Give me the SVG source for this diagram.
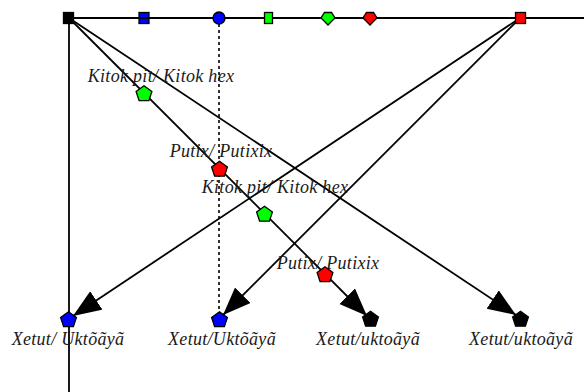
<svg xmlns="http://www.w3.org/2000/svg" width="584" height="392" viewBox="0 0 584 392">
<style>
.ln{stroke:#000;stroke-width:1.8;fill:none}
.dash{stroke:#000;stroke-width:1.6;stroke-dasharray:3,3;fill:none}
.nd{stroke:#000;stroke-width:1.3}
.lbl{font-family:"Liberation Serif","Times New Roman",serif;font-style:italic;font-size:18px;letter-spacing:0.3px;fill:#1a1a1a;text-anchor:middle}
</style>
<defs>
<marker id="ah" markerUnits="userSpaceOnUse" markerWidth="30" markerHeight="24" refX="28" refY="11" orient="auto">
<path d="M0,0 L28,11 L0,22 z" fill="#000"/>
</marker>
<polygon id="pent" points="0,-8.3 7.9,-2.6 4.9,6.7 -4.9,6.7 -7.9,-2.6"/>
<polygon id="shield" points="-3.5,-5.5 3.5,-5.5 7,0 0,7 -7,0"/>
</defs>
<rect width="584" height="392" fill="#fff"/>
<g id="connectors">
<line class="ln" x1="69" y1="18" x2="584" y2="18"/>
<line class="ln" x1="69" y1="18" x2="69" y2="392"/>
<line class="dash" x1="219" y1="18" x2="219" y2="312"/>
<line class="ln" x1="69" y1="18" x2="367" y2="316" marker-end="url(#ah)"/>
<line class="ln" x1="69" y1="18" x2="516" y2="315" marker-end="url(#ah)"/>
<line class="ln" x1="520" y1="18" x2="73" y2="316" marker-end="url(#ah)"/>
<line class="ln" x1="520" y1="18" x2="223" y2="315" marker-end="url(#ah)"/>
</g>
<g id="top-black"><rect class="nd" x="63.5" y="12.5" width="10" height="11" fill="#000"/></g>
<g id="top-blue-sq"><rect class="nd" x="139" y="12.5" width="10" height="11" fill="#0000ff"/><line class="ln" x1="139" y1="18" x2="149" y2="18"/></g>
<g id="top-blue-circ"><circle class="nd" cx="219" cy="18" r="6" fill="#0000ff"/></g>
<g id="top-green-rect"><rect class="nd" x="264.5" y="12.5" width="8" height="11" fill="#00ff00"/></g>
<g id="top-green-shield"><use href="#shield" class="nd" x="328" y="18" fill="#00ff00"/></g>
<g id="top-red-shield"><use href="#shield" class="nd" x="370" y="18" fill="#ff0000"/></g>
<g id="top-red-sq"><rect class="nd" x="515.5" y="12.5" width="10" height="11" fill="#ff0000"/></g>
<g id="mid-green-1"><use href="#pent" class="nd" x="144" y="94" fill="#00ff00"/><text class="lbl" x="161" y="82">Kitok pit/ Kitok hex</text></g>
<g id="mid-red-1"><use href="#pent" class="nd" x="219.5" y="169.5" fill="#ff0000"/><text class="lbl" x="221" y="157">Putix/ Putixix</text></g>
<g id="mid-green-2"><use href="#pent" class="nd" x="264.5" y="214.5" fill="#00ff00"/><text class="lbl" x="275" y="193">Kitok pit/ Kitok hex</text></g>
<g id="mid-red-2"><use href="#pent" class="nd" x="325" y="275" fill="#ff0000"/><text class="lbl" x="328" y="269">Putix/ Putixix</text></g>
<g id="bot-blue-1"><use href="#pent" class="nd" x="68.5" y="320" fill="#0000ff"/><text class="lbl" x="68" y="345">Xetut/ Uktõãyã</text></g>
<g id="bot-blue-2"><use href="#pent" class="nd" x="219.5" y="320" fill="#0000ff"/><text class="lbl" x="222" y="345">Xetut/Uktõãyã</text></g>
<g id="bot-black-1"><use href="#pent" class="nd" x="370.5" y="319.5" fill="#000"/><text class="lbl" x="368" y="345">Xetut/uktoãyã</text></g>
<g id="bot-black-2"><use href="#pent" class="nd" x="520.5" y="319.5" fill="#000"/><text class="lbl" x="521" y="345">Xetut/uktoãyã</text></g>
</svg>
